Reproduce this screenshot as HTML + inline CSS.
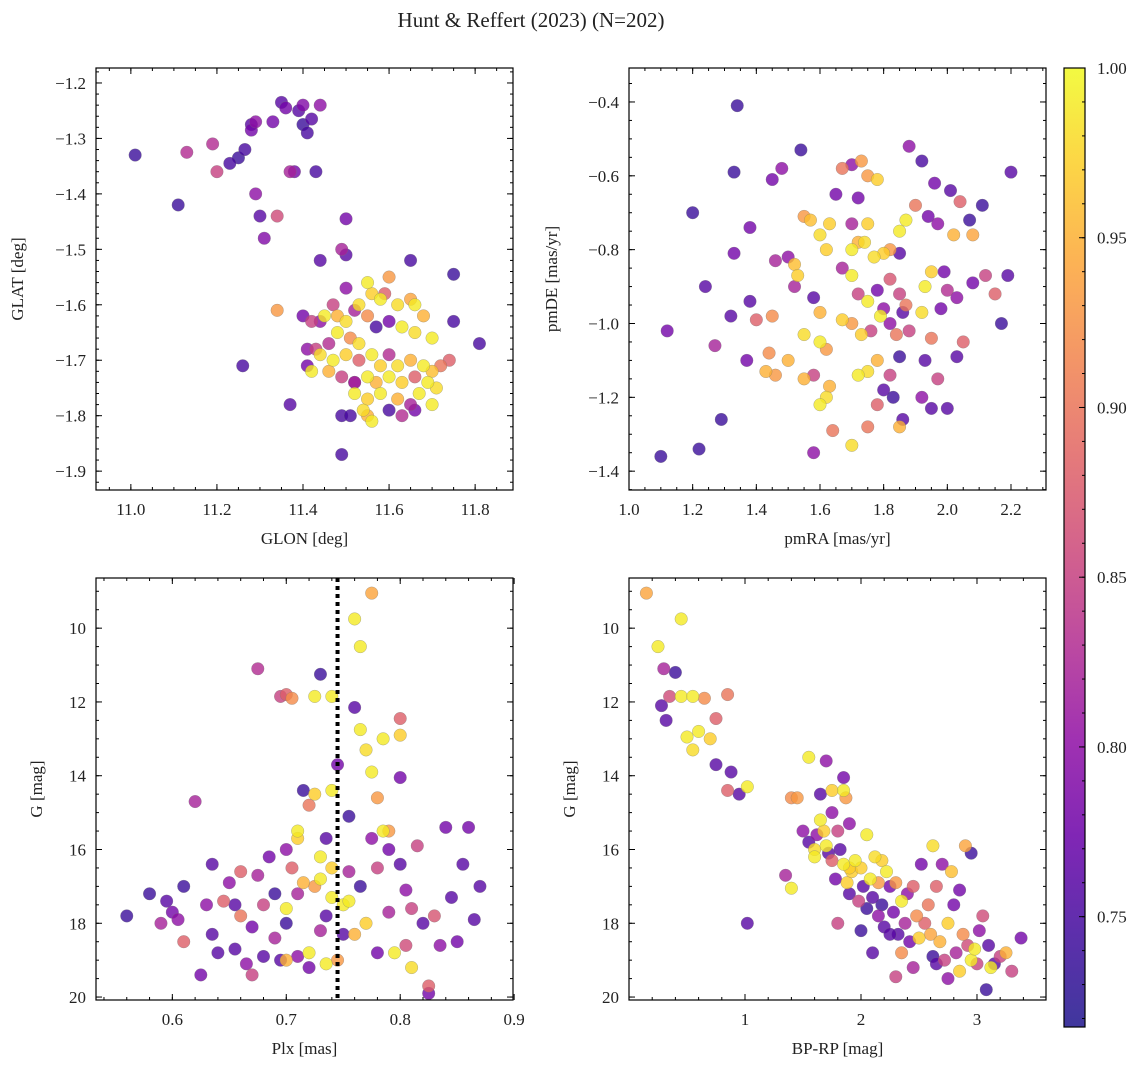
<!DOCTYPE html>
<html><head><meta charset="utf-8"><style>
body{margin:0;background:#fff;}
svg text{font-family:"Liberation Serif",serif;fill:#222;}
</style></head><body>
<svg id="fig" width="1148" height="1067" xmlns="http://www.w3.org/2000/svg">
<text x="531" y="27" font-size="21" text-anchor="middle">Hunt &amp; Reffert (2023) (N=202)</text>
</svg>
<script>
// ---- data: top-left (GLON, GLAT, prob)
const tlGlon=[11.01,11.13,11.11,11.19,11.20,11.23,11.25,11.265,11.28,11.28,11.29,11.33,11.35,11.36,11.39,11.40,11.44,11.40,11.42,11.41,11.38,11.37,11.29,11.30,11.34,11.31,11.43,11.50,11.50,11.49,11.44,11.65,11.75,11.75,11.81,11.26,11.37,11.49,11.49,11.34,
11.55,11.56,11.53,11.58,11.60,11.62,11.65,11.66,11.50,11.47,11.44,11.42,11.40,11.45,11.48,11.50,11.52,11.55,11.57,11.60,11.63,11.66,11.68,11.70,11.48,11.51,11.53,11.46,11.43,11.41,11.41,11.44,11.47,11.50,11.53,11.56,11.58,11.60,11.62,11.65,11.68,11.70,11.72,11.74,11.42,11.46,11.49,11.52,11.55,11.57,11.60,11.63,11.66,11.69,11.71,11.52,11.55,11.58,11.62,11.65,11.67,11.70,11.54,11.56,11.55,11.63,11.60,11.66,11.51,11.52,11.59];
const tlGlat=[-1.33,-1.325,-1.42,-1.31,-1.36,-1.345,-1.335,-1.32,-1.285,-1.275,-1.27,-1.27,-1.235,-1.245,-1.25,-1.24,-1.24,-1.275,-1.265,-1.29,-1.36,-1.36,-1.40,-1.44,-1.44,-1.48,-1.36,-1.445,-1.51,-1.50,-1.52,-1.52,-1.545,-1.63,-1.67,-1.71,-1.78,-1.87,-1.80,-1.61,
-1.56,-1.58,-1.60,-1.59,-1.55,-1.60,-1.59,-1.60,-1.57,-1.60,-1.63,-1.63,-1.62,-1.62,-1.62,-1.63,-1.61,-1.62,-1.64,-1.63,-1.64,-1.65,-1.62,-1.66,-1.65,-1.66,-1.67,-1.67,-1.68,-1.68,-1.71,-1.69,-1.70,-1.69,-1.70,-1.69,-1.71,-1.69,-1.71,-1.70,-1.71,-1.72,-1.71,-1.70,-1.72,-1.72,-1.73,-1.74,-1.73,-1.74,-1.73,-1.74,-1.73,-1.74,-1.75,-1.76,-1.77,-1.76,-1.77,-1.78,-1.76,-1.78,-1.79,-1.81,-1.80,-1.80,-1.79,-1.79,-1.80,-1.74,-1.58];
const tlProb=[0.74,0.83,0.74,0.83,0.85,0.75,0.74,0.75,0.78,0.76,0.80,0.78,0.76,0.78,0.76,0.79,0.80,0.74,0.76,0.75,0.78,0.82,0.80,0.76,0.86,0.79,0.75,0.78,0.76,0.82,0.76,0.75,0.74,0.75,0.75,0.75,0.76,0.75,0.75,0.93,
0.99,0.97,0.98,0.99,0.93,0.98,0.94,0.99,0.80,0.85,0.80,0.85,0.78,0.99,0.95,0.98,0.82,0.92,0.75,0.78,0.99,0.98,0.95,0.99,0.99,0.92,0.98,0.83,0.85,0.80,0.78,0.98,0.99,0.97,0.88,0.99,0.97,0.83,0.98,0.95,0.99,0.96,0.90,0.88,0.99,0.95,0.85,0.80,0.99,0.95,0.99,0.97,0.88,0.99,0.98,0.99,0.97,0.99,0.95,0.82,0.99,0.99,0.98,0.99,0.95,0.83,0.75,0.78,0.75,0.82,0.88];
// ---- top-right (pmRA, pmDE, prob)
const trPmra=[1.34,1.33,1.20,1.24,1.12,1.10,1.22,1.29,1.27,1.32,1.33,1.38,1.38,1.40,1.37,1.45,1.44,1.43,1.46,1.50,1.45,1.48,1.54,1.46,1.50,1.52,1.52,1.53,1.55,1.57,1.55,1.55,1.58,1.58,1.60,1.60,1.62,1.63,1.62,1.58,1.62,1.60,1.63,1.65,1.67,1.70,1.73,1.75,1.78,1.72,1.70,1.75,1.74,1.72,1.70,1.77,1.80,1.82,1.85,1.87,1.85,1.67,1.70,1.72,1.75,1.78,1.80,1.82,1.85,1.87,1.67,1.70,1.73,1.76,1.79,1.82,1.84,1.86,1.88,1.92,1.95,1.98,2.00,2.03,2.05,2.08,2.12,2.15,2.17,2.19,2.20,2.11,2.07,2.04,2.08,2.02,1.97,1.94,1.92,1.96,2.01,1.88,1.90,1.85,1.82,1.78,1.75,1.72,1.70,1.75,1.78,1.80,1.83,1.86,1.85,1.92,1.95,1.93,1.97,2.00,2.03,1.64,1.60,1.93,1.95,1.99];
const trPmde=[-0.41,-0.59,-0.70,-0.90,-1.02,-1.36,-1.34,-1.26,-1.06,-0.98,-0.81,-0.74,-0.94,-0.99,-1.10,-0.98,-1.08,-1.13,-1.14,-1.10,-0.61,-0.58,-0.53,-0.83,-0.82,-0.90,-0.84,-0.87,-0.71,-0.72,-1.03,-1.15,-1.14,-0.93,-0.97,-1.22,-1.20,-1.17,-1.07,-1.35,-0.80,-0.76,-0.73,-0.65,-0.58,-0.57,-0.56,-0.60,-0.61,-0.66,-0.73,-0.73,-0.78,-0.78,-0.80,-0.82,-0.81,-0.80,-0.75,-0.72,-0.81,-0.85,-0.87,-0.92,-0.94,-0.91,-0.96,-0.88,-0.92,-0.95,-0.99,-1.00,-1.03,-1.02,-0.98,-1.00,-1.03,-0.97,-1.02,-0.97,-1.04,-0.96,-0.91,-0.93,-1.05,-0.89,-0.87,-0.92,-1.00,-0.87,-0.59,-0.68,-0.72,-0.67,-0.76,-0.76,-0.73,-0.71,-0.56,-0.62,-0.64,-0.52,-0.68,-1.09,-1.14,-1.10,-1.13,-1.14,-1.33,-1.28,-1.22,-1.18,-1.20,-1.26,-1.28,-1.20,-1.23,-1.10,-1.15,-1.23,-1.09,-1.29,-1.05,-0.90,-0.86,-0.86];
const trProb=[0.74,0.74,0.74,0.76,0.78,0.74,0.74,0.74,0.82,0.76,0.78,0.78,0.76,0.88,0.78,0.92,0.92,0.95,0.93,0.95,0.78,0.80,0.74,0.82,0.80,0.82,0.96,0.97,0.93,0.96,0.98,0.95,0.85,0.76,0.95,0.99,0.98,0.95,0.93,0.80,0.97,0.98,0.97,0.78,0.90,0.80,0.93,0.93,0.97,0.78,0.82,0.97,0.98,0.95,0.99,0.98,0.97,0.93,0.99,0.99,0.76,0.82,0.99,0.85,0.99,0.78,0.80,0.87,0.85,0.90,0.97,0.93,0.97,0.85,0.99,0.80,0.90,0.76,0.85,0.98,0.90,0.78,0.83,0.80,0.88,0.78,0.85,0.88,0.74,0.76,0.76,0.74,0.74,0.88,0.94,0.95,0.80,0.78,0.75,0.78,0.76,0.80,0.90,0.74,0.85,0.95,0.98,0.99,0.98,0.90,0.88,0.76,0.74,0.76,0.95,0.80,0.76,0.76,0.85,0.76,0.76,0.90,0.99,0.99,0.97,0.78];
// ---- bottom-left (Plx, G, prob)
const blPlx=[0.56,0.58,0.59,0.595,0.60,0.605,0.61,0.61,0.62,0.625,0.63,0.635,0.64,0.635,0.645,0.65,0.655,0.655,0.66,0.66,0.665,0.67,0.67,0.675,0.675,0.68,0.68,0.685,0.69,0.69,0.695,0.695,0.70,0.705,0.70,0.70,0.70,0.705,0.71,0.71,0.71,0.715,0.715,0.72,0.72,0.72,0.725,0.725,0.725,0.73,0.73,0.73,0.735,0.735,0.74,0.74,0.74,0.74,0.745,0.745,0.75,0.75,0.755,0.755,0.76,0.76,0.765,0.765,0.765,0.77,0.77,0.775,0.775,0.775,0.78,0.78,0.78,0.785,0.785,0.79,0.79,0.795,0.80,0.80,0.80,0.80,0.805,0.805,0.81,0.81,0.815,0.82,0.825,0.825,0.83,0.835,0.84,0.845,0.85,0.855,0.86,0.865,0.87,0.70,0.735,0.76,0.79,0.71,0.73,0.755];
const blG=[17.8,17.2,18.0,17.4,17.7,17.9,18.5,17.0,14.7,19.4,17.5,18.3,18.8,16.4,17.4,16.9,18.7,17.5,16.6,17.8,19.1,19.4,18.1,11.1,16.7,17.5,18.9,16.2,18.4,17.2,19.0,11.85,11.8,11.9,16.0,18.0,17.6,16.5,18.9,15.5,15.7,14.4,16.9,19.2,14.8,18.8,11.85,14.5,17.0,11.25,16.2,18.2,15.7,19.1,11.85,14.4,16.5,17.3,19.0,13.7,17.5,18.3,15.1,16.6,12.15,9.75,10.5,12.75,17.0,13.3,18.0,9.05,13.9,15.7,14.6,16.5,18.8,13.0,15.5,17.7,16.0,18.8,14.05,12.45,12.9,16.4,17.1,18.6,19.2,17.6,15.9,18.0,19.7,19.9,17.8,18.6,15.4,17.3,18.5,16.4,15.4,17.9,17.0,19.0,17.8,18.3,15.5,17.2,16.8,17.4];
const blProb=[0.74,0.74,0.82,0.76,0.78,0.80,0.88,0.74,0.82,0.78,0.80,0.76,0.76,0.76,0.88,0.80,0.76,0.76,0.88,0.90,0.80,0.85,0.78,0.83,0.82,0.85,0.76,0.78,0.82,0.74,0.76,0.85,0.88,0.92,0.80,0.74,0.99,0.88,0.80,0.99,0.97,0.74,0.95,0.78,0.90,0.99,0.99,0.97,0.93,0.74,0.99,0.82,0.76,0.99,0.99,0.99,0.97,0.99,0.93,0.78,0.99,0.76,0.74,0.82,0.76,0.99,0.99,0.99,0.74,0.98,0.97,0.94,0.99,0.80,0.93,0.85,0.78,0.99,0.99,0.82,0.78,0.99,0.78,0.88,0.97,0.76,0.80,0.86,0.98,0.85,0.85,0.76,0.88,0.78,0.87,0.80,0.78,0.76,0.78,0.76,0.78,0.76,0.76,0.95,0.76,0.95,0.93,0.82,0.99,0.99];
// ---- bottom-right (BP-RP, G, prob)
const brColor=[0.15,0.25,0.45,0.30,0.40,0.28,0.32,0.35,0.45,0.55,0.65,0.85,0.50,0.55,0.60,0.75,0.70,0.75,0.88,0.85,0.95,1.02,1.02,1.35,1.40,1.40,1.45,1.55,1.50,1.70,1.65,1.75,1.85,1.87,1.85,1.90,1.75,
1.55,1.60,1.62,1.65,1.68,1.70,1.72,1.75,1.78,1.80,1.82,1.85,1.88,1.90,1.92,1.95,1.98,2.00,2.02,2.05,2.05,2.08,2.10,2.12,2.15,2.15,2.18,2.20,2.22,2.25,2.28,2.30,2.32,2.35,2.35,2.38,2.40,2.42,2.45,2.48,2.50,2.52,2.55,2.58,2.60,2.62,2.62,2.65,2.68,2.70,2.72,2.75,2.75,2.78,2.80,2.82,2.85,2.85,2.88,2.90,2.92,2.95,2.95,2.98,3.00,3.02,3.05,3.08,3.10,3.12,3.15,3.20,3.25,3.30,3.38,1.60,1.90,2.18,2.25,2.45,2.30,2.10,2.00,1.80,2.65];
const brG=[9.05,10.5,9.75,11.1,11.2,12.1,12.5,11.85,11.85,11.85,11.9,11.8,12.95,13.3,12.8,12.45,13.0,13.7,13.9,14.4,14.5,14.3,18.0,16.7,17.05,14.6,14.6,13.5,15.5,13.6,14.5,14.4,14.05,14.6,14.4,15.3,15.0,
15.8,16.2,15.6,15.2,15.5,15.9,16.1,16.3,16.8,15.5,16.0,16.4,16.9,17.2,16.6,16.3,17.4,16.5,17.0,17.6,15.6,16.8,17.3,16.2,16.9,17.8,17.5,18.1,16.6,17.0,17.7,16.9,18.3,17.4,18.8,18.0,17.2,18.5,17.0,17.8,18.4,16.4,18.0,17.5,18.3,18.9,15.9,17.0,18.5,16.4,19.0,18.0,19.5,16.6,17.5,18.8,19.3,17.1,18.3,15.9,18.6,16.1,19.0,18.7,19.1,18.2,17.8,19.8,18.6,19.2,19.1,18.9,18.8,19.3,18.4,16.0,16.5,16.3,18.3,19.2,19.45,18.8,18.2,18.0,19.1];
const brProb=[0.94,0.99,0.99,0.82,0.74,0.76,0.76,0.86,0.99,0.99,0.92,0.90,0.99,0.98,0.99,0.88,0.97,0.76,0.76,0.88,0.76,0.99,0.76,0.82,0.99,0.92,0.93,0.99,0.80,0.80,0.76,0.97,0.78,0.93,0.99,0.80,0.80,
0.76,0.99,0.80,0.99,0.97,0.99,0.76,0.88,0.78,0.85,0.76,0.99,0.97,0.76,0.97,0.99,0.85,0.97,0.76,0.74,0.99,0.99,0.76,0.98,0.93,0.80,0.74,0.76,0.99,0.78,0.78,0.93,0.76,0.99,0.92,0.82,0.80,0.78,0.88,0.92,0.97,0.78,0.88,0.90,0.94,0.74,0.98,0.88,0.95,0.80,0.85,0.97,0.80,0.96,0.78,0.82,0.97,0.78,0.92,0.94,0.86,0.74,0.99,0.99,0.85,0.80,0.86,0.74,0.76,0.99,0.76,0.85,0.95,0.85,0.78,0.98,0.97,0.97,0.76,0.82,0.85,0.76,0.74,0.85,0.76];
const cbTicks=[0.75,0.80,0.85,0.90,0.95,1.00];

const NS='http://www.w3.org/2000/svg';
const svg=document.getElementById('fig');
function mk(tag,attrs,parent){const e=document.createElementNS(NS,tag);for(const k in attrs)e.setAttribute(k,attrs[k]);(parent||svg).appendChild(e);return e;}
const VMIN=0.7175,VMAX=1.0;
const stops=[[30,20,140],[65,10,157],[106,0,168],[143,13,164],[177,42,144],[204,71,120],[225,100,98],[242,132,75],[252,166,54],[252,206,37],[240,249,33]];
function plasma(t){t=Math.max(0,Math.min(1,t));const s=t*10,i=Math.min(9,Math.floor(s)),f=s-i;const a=stops[i],b=stops[i+1];return 'rgb('+a.map((v,k)=>Math.round(v+(b[k]-v)*f)).join(',')+')';}
function cmap(p){return plasma((p-VMIN)/(VMAX-VMIN));}

function panel(o){
  const g=mk('g',{});
  
  
  const sx=v=>o.x0+(v-o.xmin)/(o.xmax-o.xmin)*(o.x1-o.x0);
  const sy=v=>o.y0+(v-o.ymax)/(o.ymin-o.ymax)*(o.y1-o.y0);
  const order=o.p.map((v,i)=>i).sort((a,b)=>o.p[a]-o.p[b]);
  order.forEach(i=>{
    const c=mk('circle',{cx:sx(o.xs[i]),cy:sy(o.ys[i]),r:6.3,fill:cmap(o.p[i]),'fill-opacity':0.8,stroke:'#777','stroke-width':0.4,'stroke-opacity':0.7},g);
    
    
  });
  if(o.vline!==undefined){
    const l=mk('line',{x1:sx(o.vline),x2:sx(o.vline),y1:o.y0,y2:o.y1,stroke:'#000','stroke-width':4,'stroke-dasharray':'4,4'},g);
    
    
  }
  const fr=mk('rect',{x:o.x0,y:o.y0,width:o.x1-o.x0,height:o.y1-o.y0,fill:'none',stroke:'#000','stroke-width':1.2},g);
  
  
  const lo=Math.min(o.ymin,o.ymax),hi=Math.max(o.ymin,o.ymax);
  for(let v=Math.ceil(o.xmin/o.xminor-1e-6)*o.xminor;v<=o.xmax+1e-9;v+=o.xminor){const X=sx(v);mk('line',{x1:X,x2:X,y1:o.y1,y2:o.y1-3,stroke:'#000'},g);mk('line',{x1:X,x2:X,y1:o.y0,y2:o.y0+3,stroke:'#000'},g);}
  for(let v=Math.ceil(lo/o.yminor-1e-6)*o.yminor;v<=hi+1e-9;v+=o.yminor){const Y=sy(v);mk('line',{x1:o.x0,x2:o.x0+3,y1:Y,y2:Y,stroke:'#000'},g);mk('line',{x1:o.x1,x2:o.x1-3,y1:Y,y2:Y,stroke:'#000'},g);}
  o.xt.forEach(v=>{const X=sx(v);mk('line',{x1:X,x2:X,y1:o.y1,y2:o.y1-6,stroke:'#000'},g);mk('line',{x1:X,x2:X,y1:o.y0,y2:o.y0+6,stroke:'#000'},g);
    const t=mk('text',{x:X,y:o.y1+25,'font-size':17,'text-anchor':'middle'},g);t.textContent=o.xf(v);
    });
  o.yt.forEach(v=>{const Y=sy(v);mk('line',{x1:o.x0,x2:o.x0+6,y1:Y,y2:Y,stroke:'#000'},g);mk('line',{x1:o.x1,x2:o.x1-6,y1:Y,y2:Y,stroke:'#000'},g);
    const t=mk('text',{x:o.x0-10,y:Y+6,'font-size':17,'text-anchor':'end'},g);t.textContent=o.yf(v);
    });
  const xl=mk('text',{x:(o.x0+o.x1)/2,y:o.y1+54,'font-size':17,'text-anchor':'middle'},g);xl.textContent=o.xlabel;
  
  const yx=o.ylx,yy=(o.y0+o.y1)/2;
  const yl=mk('text',{x:yx,y:yy,'font-size':17,'text-anchor':'middle',transform:'rotate(-90 '+yx+' '+yy+')'},g);yl.textContent=o.ylabel;
  
}
const mf=v=>v.toFixed(1).replace('-','\u2212');
panel({name:'glon-glat-panel',x0:96,x1:513,y0:68,y1:490,xmin:10.919,xmax:11.888,ymin:-1.934,ymax:-1.173,xs:tlGlon,ys:tlGlat,p:tlProb,
  xt:[11.0,11.2,11.4,11.6,11.8],yt:[-1.2,-1.3,-1.4,-1.5,-1.6,-1.7,-1.8,-1.9],xminor:0.05,yminor:0.02,xf:mf,yf:mf,xlabel:'GLON [deg]',ylabel:'GLAT [deg]',ylx:23});
panel({name:'pm-panel',x0:629,x1:1046,y0:68,y1:490,xmin:1.0,xmax:2.31,ymin:-1.451,ymax:-0.308,xs:trPmra,ys:trPmde,p:trProb,
  xt:[1.0,1.2,1.4,1.6,1.8,2.0,2.2],yt:[-0.4,-0.6,-0.8,-1.0,-1.2,-1.4],xminor:0.05,yminor:0.05,xf:mf,yf:mf,xlabel:'pmRA [mas/yr]',ylabel:'pmDE [mas/yr]',ylx:557});
panel({name:'plx-g-panel',x0:96,x1:513,y0:578,y1:1000,xmin:0.533,xmax:0.899,ymin:20.08,ymax:8.64,xs:blPlx,ys:blG,p:blProb,vline:0.745,
  xt:[0.6,0.7,0.8,0.9],yt:[10,12,14,16,18,20],xminor:0.02,yminor:0.5,xf:mf,yf:v=>String(v),xlabel:'Plx [mas]',ylabel:'G [mag]',ylx:42});
panel({name:'cmd-panel',x0:629,x1:1046,y0:578,y1:1000,xmin:0.0,xmax:3.595,ymin:20.08,ymax:8.64,xs:brColor,ys:brG,p:brProb,
  xt:[1,2,3],yt:[10,12,14,16,18,20],xminor:0.2,yminor:0.5,xf:v=>String(v),yf:v=>String(v),xlabel:'BP-RP [mag]',ylabel:'G [mag]',ylx:575});

const cb=mk('g',{});


const cx0=1064,cx1=1085,cy0=68,cy1=1027;
const grad=mk('linearGradient',{id:'pg',x1:0,y1:1,x2:0,y2:0},mk('defs',{},cb));
for(let i=0;i<=20;i++)mk('stop',{offset:i/20,'stop-color':plasma(i/20),'stop-opacity':0.85},grad);
mk('rect',{x:cx0,y:cy0,width:cx1-cx0,height:cy1-cy0,fill:'url(#pg)',stroke:'#000','stroke-width':1.2},cb);
const cy=v=>cy1-(v-VMIN)/(VMAX-VMIN)*(cy1-cy0);
for(let v=0.72;v<=1.0001;v+=0.01){const Y=cy(v);mk('line',{x1:cx1,x2:cx1-3,y1:Y,y2:Y,stroke:'#000'},cb);}
cbTicks.forEach(v=>{const Y=cy(v);mk('line',{x1:cx1,x2:cx1-6,y1:Y,y2:Y,stroke:'#000'},cb);
  const t=mk('text',{x:cx1+12,y:Y+6,'font-size':17},cb);t.textContent=v.toFixed(2);
  });
</script>
</body></html>
